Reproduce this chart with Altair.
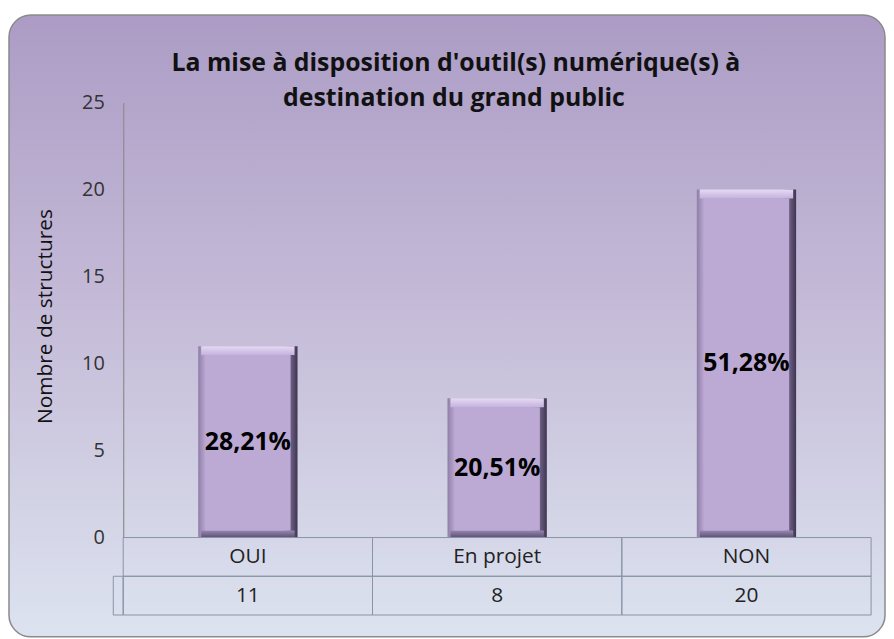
import altair as alt
import pandas as pd

categories = ["OUI", "En projet", "NON"]
values = [11, 8, 20]
pct_labels = ["28,21%", "20,51%", "51,28%"]
title_lines = ["La mise à disposition d'outil(s) numérique(s) à", "destination du grand public"]
y_title = "Nombre de structures"
y_ticks = [0, 5, 10, 15, 20, 25]

df = pd.DataFrame({"cat": categories, "v": values, "pct": pct_labels})
df["mid"] = df["v"] / 2
df["zero"] = 0
df["vstr"] = df["v"].astype(str)

W, H = 753, 438
FONT = "Open Sans"
one = alt.Data(values=[{}])

xenc = alt.X("cat:N", sort=categories, axis=None,
             scale=alt.Scale(paddingInner=0, paddingOuter=0))
yscale = alt.Scale(domain=[0, 25], nice=False)

def grad(stops, vertical):
    return alt.LinearGradient(
        gradient="linear",
        stops=[alt.GradientStop(offset=o, color=c) for o, c in stops],
        x1=0, y1=0, x2=0 if vertical else 1, y2=1 if vertical else 0,
    )

background = alt.Chart(one).mark_rect(
    cornerRadius=22, stroke="#8a8a8a", strokeWidth=1.5,
    color=grad([(0, "#ac9cc5"), (0.5, "#c6bdd9"), (1, "#dce3ef")], True),
).encode(x=alt.value(-115), x2=alt.value(767), y=alt.value(-88), y2=alt.value(538))

title1 = alt.Chart(one).mark_text(
    font=FONT, fontSize=25, fontWeight="bold", color="#111", baseline="alphabetic", align="center"
).encode(x=alt.value(335), y=alt.value(-32), text=alt.value(title_lines[0]))
title2 = alt.Chart(one).mark_text(
    font=FONT, fontSize=25, fontWeight="bold", color="#111", baseline="alphabetic", align="center"
).encode(x=alt.value(333), y=alt.value(4), text=alt.value(title_lines[1]))

base = alt.Chart(df)

bar_outer = base.mark_bar(
    size=100,
    color=grad([(0, "#8e7ea6"), (0.07, "#b8a6d0"), (0.85, "#b4a2cc"), (0.93, "#6e6084"), (1, "#3e3550")], False),
).encode(
    x=xenc,
    y=alt.Y("v:Q", scale=yscale, axis=alt.Axis(
        values=y_ticks, title=y_title, grid=False, ticks=False,
        domainColor="#8c8c8c", domainWidth=1.2, labelFontSize=20, labelFont=FONT,
        labelColor="#333", labelPadding=19, titleFont=FONT, titleFontSize=21,
        titleFontWeight="normal", titleColor="#111", titleX=-78, titleY=215,
        titleAngle=-90, titleAlign="center", titleBaseline="middle", zindex=1,
    )),
    y2=alt.Y2("zero:Q"),
)

bar_top = base.mark_bar(
    size=94, y2Offset=9,
    color=grad([(0, "#e6daf4"), (1, "#c4b2dc")], True),
).encode(x=xenc, y=alt.Y("v:Q", scale=yscale), y2=alt.Y2("v:Q"))

bar_bottom = base.mark_bar(
    size=94, yOffset=-7,
    color=grad([(0, "#9686ae"), (1, "#5e5074")], True),
).encode(x=xenc, y=alt.Y("zero:Q", scale=yscale), y2=alt.Y2("zero:Q"))

bar_inner = base.mark_bar(
    size=86, yOffset=9, y2Offset=-7, color="#bcaad5",
).encode(x=xenc, y=alt.Y("v:Q", scale=yscale), y2=alt.Y2("zero:Q"))

bar_text = base.mark_text(
    font=FONT, fontSize=25, fontWeight="bold", color="#000", baseline="middle"
).encode(x=xenc, y=alt.Y("mid:Q", scale=yscale), text="pct:N")

cell_style = dict(fillOpacity=0, stroke="#8794a6", strokeWidth=1)
row1 = base.mark_rect(**cell_style).encode(x=xenc, y=alt.value(H), y2=alt.value(H + 39))
row2 = base.mark_rect(**cell_style).encode(x=xenc, y=alt.value(H + 39), y2=alt.value(H + 78))
ext = alt.Chart(one).mark_rect(**cell_style).encode(
    x=alt.value(-10), x2=alt.value(0), y=alt.value(H + 39), y2=alt.value(H + 78))

row1_text = base.mark_text(font=FONT, fontSize=21, color="#222", baseline="middle").encode(
    x=xenc, y=alt.value(H + 20), text="cat:N")
row2_text = base.mark_text(font=FONT, fontSize=21, color="#222", baseline="middle").encode(
    x=xenc, y=alt.value(H + 59), text="vstr:N")

chart = alt.layer(
    background, title1, title2, bar_outer, bar_top, bar_bottom, bar_inner, bar_text,
    row1, row2, ext, row1_text, row2_text,
).properties(
    width=W, height=H, padding={"left": 0, "top": 4, "right": 0, "bottom": 0},
).configure_view(stroke=None).configure(background="#ffffff")

chart.save("out.html", embed_options={"renderer": "svg", "actions": False})
